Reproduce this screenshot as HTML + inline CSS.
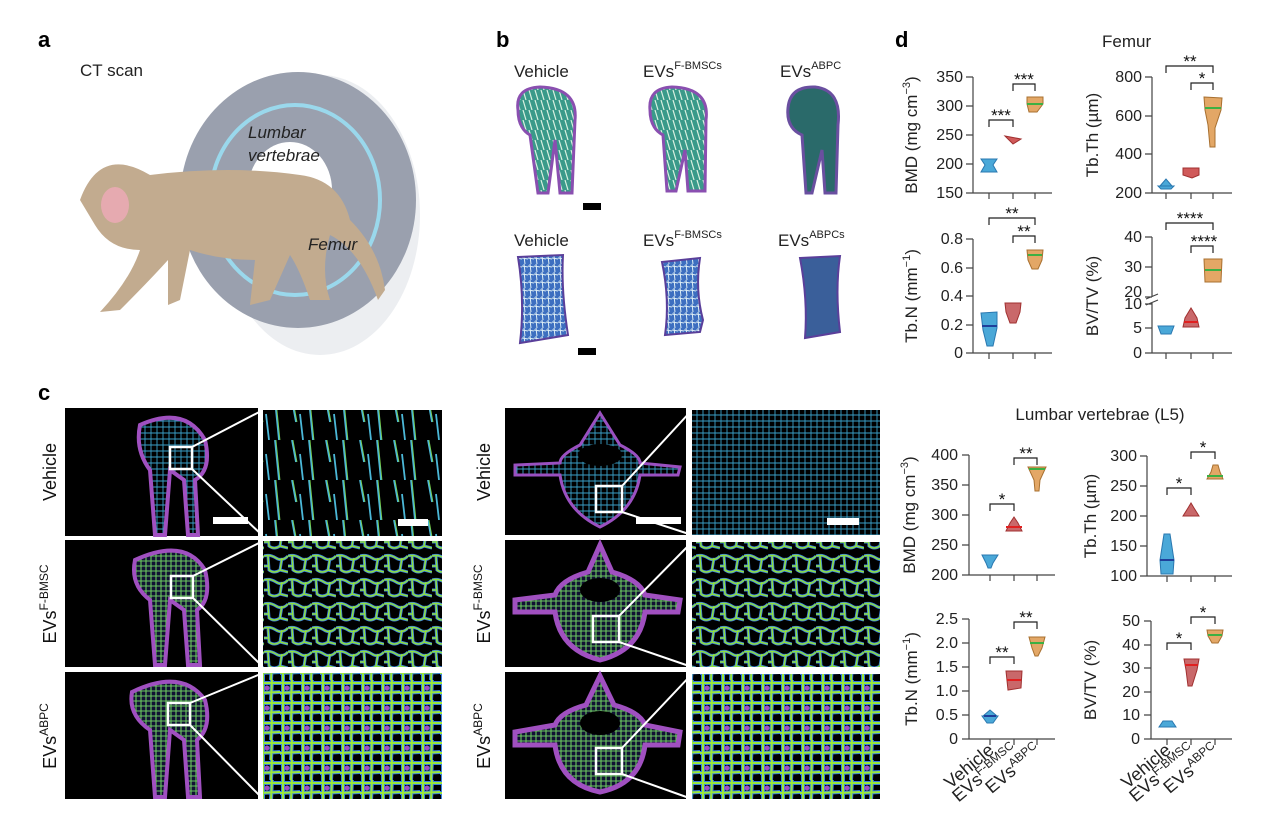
<!DOCTYPE html>
<html><head><meta charset="utf-8">
<style>
html,body{margin:0;padding:0;background:#fff;}
svg{display:block;font-family:"Liberation Sans",sans-serif;}
.t{font-size:16px;fill:#222;}
.lab{font-size:17px;fill:#222;}
.st{font-size:17px;fill:#111;}
.br{fill:none;stroke:#222;stroke-width:1.2;}
.ax{stroke:#444;stroke-width:1.2;fill:none;}
</style></head><body>
<svg width="1270" height="832" viewBox="0 0 1270 832" xmlns="http://www.w3.org/2000/svg">
<defs>
 <pattern id="trabA" width="34" height="40" patternUnits="userSpaceOnUse">
  <rect width="34" height="40" fill="#000"/>
  <path d="M3 0 L7 40 M20 0 L24 22 M28 14 L31 40" stroke="#4bb8d8" stroke-width="1.8"/>
  <path d="M4 0 L8 40 M21 0 L25 22" stroke="#7ad14a" stroke-width="0.8"/>
 </pattern>
 <pattern id="trabB" width="24" height="24" patternUnits="userSpaceOnUse">
  <rect width="24" height="24" fill="#000"/>
  <path d="M0 4 Q6 2 12 6 T24 4 M4 4 L5 18 Q10 22 16 18 L18 6 M0 14 L4 14 M16 18 L24 20" stroke="#3a7fe0" stroke-width="3" fill="none"/>
  <path d="M0 4 Q6 2 12 6 T24 4 M4 4 L5 18 Q10 22 16 18 L18 6 M0 14 L4 14 M16 18 L24 20" stroke="#8fe040" stroke-width="1.5" fill="none"/>
 </pattern>
 <pattern id="trabC" width="20" height="20" patternUnits="userSpaceOnUse">
  <rect width="20" height="20" fill="#000"/>
  <path d="M0 3 L20 3 M3 0 L3 20 M12 0 L11 20 M0 13 L20 12" stroke="#3a7fe0" stroke-width="4"/>
  <path d="M0 3 L20 3 M3 0 L3 20 M12 0 L11 20 M0 13 L20 12" stroke="#9ae83a" stroke-width="2"/>
  <circle cx="7" cy="8" r="2.5" fill="#a050c0"/>
 </pattern>
 <pattern id="fine" width="6" height="6" patternUnits="userSpaceOnUse">
  <rect width="6" height="6" fill="#000"/>
  <path d="M0 1 L6 1 M1 0 L1 6" stroke="#3aa0c8" stroke-width="0.9"/>
 </pattern>
 <pattern id="fineG" width="5" height="5" patternUnits="userSpaceOnUse">
  <rect width="5" height="5" fill="#113"/>
  <path d="M0 1 L5 1 M1 0 L1 5" stroke="#6cc860" stroke-width="1.1"/>
 </pattern>
 <pattern id="bvT" width="6" height="8" patternUnits="userSpaceOnUse">
  <rect width="6" height="8" fill="#3d6fc0"/>
  <path d="M0 2 L6 3 M2 0 L3 8" stroke="#dfeff5" stroke-width="1"/>
 </pattern>
 <pattern id="bfT" width="6" height="10" patternUnits="userSpaceOnUse">
  <rect width="6" height="10" fill="#3a9a8a"/>
  <path d="M1 0 L4 10" stroke="#d8f0e0" stroke-width="1.2"/>
 </pattern>
</defs>

<!-- Panel a -->
<text x="38" y="47" font-size="22" font-weight="bold">a</text>
<text x="80" y="76" font-size="17" fill="#222">CT scan</text>
<ellipse cx="320" cy="215" rx="100" ry="140" fill="#eceef1"/>
<ellipse cx="298" cy="200" rx="118" ry="128" fill="#9aa0ae"/>
<ellipse cx="295" cy="200" rx="85" ry="95" fill="none" stroke="#9ad8ec" stroke-width="4"/>
<ellipse cx="290" cy="190" rx="42" ry="48" fill="#fff"/>
<path d="M80 200 Q100 145 150 175 Q230 165 300 175 Q340 180 350 220 Q380 250 385 290 L378 300 Q360 250 330 235 Q320 270 330 300 L310 300 Q300 270 290 255 L270 300 L250 305 L255 260 Q220 260 190 250 L180 300 L168 305 L168 260 Q150 280 120 310 L100 312 Q130 280 140 250 Q110 250 95 225 Z" fill="#c2ab8f"/>
<ellipse cx="115" cy="205" rx="14" ry="18" fill="#e6aab0"/>
<text x="248" y="138" font-size="17" font-style="italic" fill="#222">Lumbar</text>
<text x="248" y="161" font-size="17" font-style="italic" fill="#222">vertebrae</text>
<text x="308" y="250" font-size="17" font-style="italic" fill="#222">Femur</text>

<!-- Panel b -->
<text x="496" y="47" font-size="22" font-weight="bold">b</text>
<text x="514" y="77" font-size="17" fill="#222">Vehicle</text>
<text x="643" y="77" font-size="17" fill="#222">EVs<tspan font-size="11" dy="-8">F-BMSCs</tspan></text>
<text x="780" y="77" font-size="17" fill="#222">EVs<tspan font-size="11" dy="-8">ABPC</tspan></text>
<text x="514" y="246" font-size="17" fill="#222">Vehicle</text>
<text x="643" y="246" font-size="17" fill="#222">EVs<tspan font-size="11" dy="-8">F-BMSCs</tspan></text>
<text x="778" y="246" font-size="17" fill="#222">EVs<tspan font-size="11" dy="-8">ABPCs</tspan></text>
<g>
 <path d="M518 110 Q515 88 540 87 Q578 88 575 120 L572 193 L560 193 L555 140 L548 193 L538 193 L530 135 Q518 128 518 110 Z" fill="url(#bfT)" stroke="#8a4fb0" stroke-width="3"/>
 <path d="M650 110 Q648 88 672 87 Q710 88 706 120 L705 191 L688 191 L685 150 L676 191 L667 191 L663 135 Q650 128 650 110 Z" fill="url(#bfT)" stroke="#8a4fb0" stroke-width="3"/>
 <path d="M788 108 Q790 86 815 87 Q842 90 838 125 L836 193 L825 193 L822 150 L812 193 L806 193 L802 135 Q786 128 788 108 Z" fill="#2a6a6a" stroke="#6a4fa0" stroke-width="3"/>
 <rect x="583" y="203" width="18" height="7" fill="#000"/>
 <path d="M518 257 L563 255 Q561 290 568 335 L520 343 Q525 300 518 257 Z" fill="url(#bvT)" stroke="#5a3f9a" stroke-width="2"/>
 <path d="M662 262 L700 258 Q695 290 703 320 L700 332 L665 335 Q670 300 662 262 Z" fill="url(#bvT)" stroke="#5a3f9a" stroke-width="2"/>
 <path d="M800 258 L840 256 Q835 290 840 332 L805 338 Q808 300 800 258 Z" fill="#3a5f9a" stroke="#5a3f9a" stroke-width="2"/>
 <rect x="578" y="348" width="18" height="7" fill="#000"/>
</g>

<!-- Panel c -->
<text x="38" y="400" font-size="22" font-weight="bold">c</text>
<g font-size="18" fill="#111">
 <text transform="translate(56,472) rotate(-90)" text-anchor="middle">Vehicle</text>
 <text transform="translate(56,604) rotate(-90)" text-anchor="middle">EVs<tspan font-size="12" dy="-8">F-BMSC</tspan></text>
 <text transform="translate(56,736) rotate(-90)" text-anchor="middle">EVs<tspan font-size="12" dy="-8">ABPC</tspan></text>
 <text transform="translate(490,472) rotate(-90)" text-anchor="middle">Vehicle</text>
 <text transform="translate(490,604) rotate(-90)" text-anchor="middle">EVs<tspan font-size="12" dy="-8">F-BMSC</tspan></text>
 <text transform="translate(490,736) rotate(-90)" text-anchor="middle">EVs<tspan font-size="12" dy="-8">ABPC</tspan></text>
</g>
<g>
 <rect x="65" y="408" width="193" height="128" fill="#000"/>
 <rect x="65" y="540" width="193" height="127" fill="#000"/>
 <rect x="65" y="672" width="193" height="127" fill="#000"/>
 <path d="M140 425 Q185 405 205 440 Q212 470 195 480 L198 535 L188 535 L184 480 L170 470 L165 535 L155 535 L150 470 Q135 450 140 425 Z" fill="url(#fine)" stroke="#a050c0" stroke-width="4"/>
 <path d="M135 560 Q185 537 205 570 Q212 600 197 610 L200 665 L188 665 L184 610 L170 600 L165 665 L155 665 L150 600 Q130 585 135 560 Z" fill="url(#fineG)" stroke="#a050c0" stroke-width="4"/>
 <path d="M132 692 Q182 668 205 700 Q212 728 197 740 L200 797 L188 797 L184 740 L170 730 L165 797 L155 797 L150 730 Q128 715 132 692 Z" fill="url(#fineG)" stroke="#a050c0" stroke-width="4"/>
 <rect x="170" y="447" width="22" height="22" fill="none" stroke="#fff" stroke-width="2.5"/>
 <rect x="171" y="576" width="22" height="22" fill="none" stroke="#fff" stroke-width="2.5"/>
 <rect x="168" y="703" width="22" height="22" fill="none" stroke="#fff" stroke-width="2.5"/>
 <path d="M192 447 L263 410 M192 469 L263 536 M193 576 L263 541 M193 598 L263 667 M190 703 L263 673 M190 725 L263 799" stroke="#fff" stroke-width="2"/>
 <rect x="213" y="517" width="35" height="7" fill="#fff"/>
 <rect x="263" y="410" width="179" height="126" fill="url(#trabA)"/>
 <rect x="263" y="541" width="179" height="126" fill="url(#trabB)"/>
 <rect x="263" y="673" width="179" height="126" fill="url(#trabC)"/>
 <rect x="398" y="519" width="30" height="7" fill="#fff"/>
</g>
<g>
 <rect x="505" y="408" width="181" height="127" fill="#000"/>
 <rect x="505" y="540" width="181" height="127" fill="#000"/>
 <rect x="505" y="672" width="181" height="127" fill="#000"/>
 <path d="M600 413 L620 445 Q640 455 640 463 L680 467 L678 475 L640 475 Q635 510 600 527 Q565 510 560 475 L515 475 L515 465 L560 463 Q560 455 580 445 Z" fill="url(#fine)" stroke="#9a50c0" stroke-width="3"/>
 <ellipse cx="600" cy="455" rx="22" ry="11" fill="#000"/>
 <path d="M600 545 L612 572 Q640 580 645 595 L680 600 L678 612 L645 612 Q640 650 600 660 Q560 650 555 612 L515 612 L515 600 L555 595 Q560 580 588 572 Z" fill="url(#fineG)" stroke="#a050c0" stroke-width="5"/>
 <ellipse cx="600" cy="590" rx="20" ry="12" fill="#000"/>
 <path d="M600 676 L614 705 Q640 712 645 725 L680 732 L678 745 L645 745 Q640 784 600 792 Q560 784 555 745 L515 745 L515 732 L555 725 Q560 712 586 705 Z" fill="url(#fineG)" stroke="#a050c0" stroke-width="5"/>
 <ellipse cx="600" cy="723" rx="20" ry="12" fill="#000"/>
 <rect x="596" y="486" width="26" height="26" fill="none" stroke="#fff" stroke-width="2.5"/>
 <rect x="593" y="616" width="26" height="26" fill="none" stroke="#fff" stroke-width="2.5"/>
 <rect x="596" y="748" width="26" height="26" fill="none" stroke="#fff" stroke-width="2.5"/>
 <path d="M622 486 L692 410 M622 512 L692 535 M619 616 L692 542 M619 642 L692 667 M622 748 L692 674 M622 774 L692 799" stroke="#fff" stroke-width="2"/>
 <rect x="636" y="517" width="45" height="7" fill="#fff"/>
 <rect x="692" y="410" width="188" height="125" fill="url(#fine)"/>
 <rect x="692" y="542" width="188" height="125" fill="url(#trabB)"/>
 <rect x="692" y="674" width="188" height="125" fill="url(#trabC)"/>
 <rect x="827" y="518" width="32" height="7" fill="#fff"/>
</g>

<!-- Panel d -->
<text x="895" y="47" font-size="22" font-weight="bold">d</text>
<text x="1102" y="47" class="lab" font-size="17">Femur</text>
<text x="1100" y="420" class="lab" font-size="17" text-anchor="middle">Lumbar vertebrae (L5)</text>

<g>
 <path class="ax" d="M973 77 L973 193 L1052 193 M966 77 L973 77 M966 106 L973 106 M966 135 L973 135 M966 164 L973 164 M966 193 L973 193 M989 193 L989 199 M1013 193 L1013 199 M1035 193 L1035 199"/>
 <g class="t" text-anchor="end"><text x="963" y="82">350</text><text x="963" y="111">300</text><text x="963" y="140">250</text><text x="963" y="169">200</text><text x="963" y="198">150</text></g>
 <text class="lab" transform="translate(917,135) rotate(-90)" text-anchor="middle">BMD (mg cm<tspan font-size="11" dy="-7">−3</tspan><tspan dy="7">)</tspan></text>
 <path d="M981 159 L997 159 L993 165 L997 172 L981 172 L985 165 Z" fill="#4aa8d8" stroke="#2a78b0"/>
 <path d="M1005 136 L1021 139 L1013 144 Z" fill="#d05a5a" stroke="#a03030"/>
 <path d="M1027 97 L1043 97 L1043 104 L1037 112 L1029 112 L1027 104 Z" fill="#e3a766" stroke="#a87030"/>
 <path d="M1027 104 L1043 104" stroke="#3cb043" stroke-width="2"/>
 <path class="br" d="M989 127 L989 120 L1013 120 L1013 127 M1013 91 L1013 84 L1035 84 L1035 91"/>
 <text class="st" x="1001" y="121" text-anchor="middle">***</text>
 <text class="st" x="1024" y="85" text-anchor="middle">***</text>
</g>
<g>
 <path class="ax" d="M1152 77 L1152 193 L1232 193 M1145 77 L1152 77 M1145 116 L1152 116 M1145 154 L1152 154 M1145 193 L1152 193 M1166 193 L1166 199 M1191 193 L1191 199 M1213 193 L1213 199"/>
 <g class="t" text-anchor="end"><text x="1142" y="82">800</text><text x="1142" y="121">600</text><text x="1142" y="159">400</text><text x="1142" y="198">200</text></g>
 <text class="lab" transform="translate(1098,135) rotate(-90)" text-anchor="middle">Tb.Th (µm)</text>
 <path d="M1158 186 L1174 186 L1171 189 L1161 189 Z M1160 186 L1166 179 L1172 186 Z" fill="#4aa8d8" stroke="#2a78b0"/>
 <path d="M1183 168 L1199 168 L1199 175 L1192 178 L1183 175 Z" fill="#d05a5a" stroke="#a03030"/>
 <path d="M1204 97 L1222 98 L1221 110 L1215 128 L1215 147 L1210 147 L1208 125 L1205 110 Z" fill="#e3a766" stroke="#a87030"/>
 <path d="M1205 108 L1221 108" stroke="#3cb043" stroke-width="2"/>
 <path class="br" d="M1166 73 L1166 66 L1213 66 L1213 73 M1191 90 L1191 83 L1213 83 L1213 90"/>
 <text class="st" x="1190" y="67" text-anchor="middle">**</text>
 <text class="st" x="1202" y="84" text-anchor="middle">*</text>
</g>
<g>
 <path class="ax" d="M973 239 L973 353 L1052 353 M966 239 L973 239 M966 268 L973 268 M966 296 L973 296 M966 325 L973 325 M966 353 L973 353 M989 353 L989 359 M1013 353 L1013 359 M1035 353 L1035 359"/>
 <g class="t" text-anchor="end"><text x="963" y="244">0.8</text><text x="963" y="273">0.6</text><text x="963" y="301">0.4</text><text x="963" y="330">0.2</text><text x="963" y="358">0</text></g>
 <text class="lab" transform="translate(917,296) rotate(-90)" text-anchor="middle">Tb.N (mm<tspan font-size="11" dy="-7">−1</tspan><tspan dy="7">)</tspan></text>
 <path d="M981 313 L997 312 L997 328 L993 346 L987 346 L983 330 Z" fill="#4aa8d8" stroke="#2a78b0"/>
 <path d="M982 326 L997 326" stroke="#1f3f9a" stroke-width="2"/>
 <path d="M1005 303 L1021 303 L1020 312 L1016 323 L1010 323 L1006 312 Z" fill="#c9686a" stroke="#a03030"/>
 <path d="M1027 250 L1043 250 L1042 260 L1038 269 L1032 269 L1028 260 Z" fill="#e3a766" stroke="#a87030"/>
 <path d="M1028 255 L1042 255" stroke="#3cb043" stroke-width="2"/>
 <path class="br" d="M989 225 L989 218 L1035 218 L1035 225 M1013 243 L1013 236 L1035 236 L1035 243"/>
 <text class="st" x="1012" y="219" text-anchor="middle">**</text>
 <text class="st" x="1024" y="237" text-anchor="middle">**</text>
</g>
<g>
 <path class="ax" d="M1152 237 L1152 297 M1152 303 L1152 353 L1232 353 M1145 237 L1152 237 M1145 267 L1152 267 M1145 297 L1152 297 M1145 304 L1152 304 M1145 328 L1152 328 M1145 353 L1152 353 M1166 353 L1166 359 M1191 353 L1191 359 M1213 353 L1213 359 M1146 299 L1158 294 M1146 305 L1158 300"/>
 <g class="t" text-anchor="end"><text x="1142" y="242">40</text><text x="1142" y="272">30</text><text x="1142" y="297">20</text><text x="1142" y="309">10</text><text x="1142" y="333">5</text><text x="1142" y="358">0</text></g>
 <text class="lab" transform="translate(1098,296) rotate(-90)" text-anchor="middle">BV/TV (%)</text>
 <path d="M1158 326 L1174 326 L1171 334 L1161 334 Z" fill="#4aa8d8" stroke="#2a78b0"/>
 <path d="M1183 327 L1199 327 L1197 318 L1191 308 L1185 318 Z" fill="#c9686a" stroke="#a03030"/>
 <path d="M1184 322 L1198 322" stroke="#e02020" stroke-width="2"/>
 <path d="M1204 259 L1222 259 L1221 282 L1205 282 Z" fill="#e3a766" stroke="#a87030"/>
 <path d="M1205 270 L1221 270" stroke="#3cb043" stroke-width="2"/>
 <path class="br" d="M1166 230 L1166 223 L1213 223 L1213 230 M1191 253 L1191 246 L1213 246 L1213 253"/>
 <text class="st" x="1190" y="224" text-anchor="middle">****</text>
 <text class="st" x="1204" y="247" text-anchor="middle">****</text>
</g>

<g>
 <path class="ax" d="M969 455 L969 575 L1055 575 M962 455 L969 455 M962 485 L969 485 M962 515 L969 515 M962 545 L969 545 M962 575 L969 575 M990 575 L990 581 M1014 575 L1014 581 M1037 575 L1037 581"/>
 <g class="t" text-anchor="end"><text x="958" y="460">400</text><text x="958" y="490">350</text><text x="958" y="520">300</text><text x="958" y="550">250</text><text x="958" y="580">200</text></g>
 <text class="lab" transform="translate(915,515) rotate(-90)" text-anchor="middle">BMD (mg cm<tspan font-size="11" dy="-7">−3</tspan><tspan dy="7">)</tspan></text>
 <path d="M982 555 L998 555 L993 563 L991 568 L988 568 L986 563 Z" fill="#4aa8d8" stroke="#2a78b0"/>
 <path d="M1006 531 L1022 531 L1018 523 L1014 517 L1010 523 Z" fill="#c9686a" stroke="#a03030"/>
 <path d="M1006 527 L1022 527" stroke="#e02020" stroke-width="2"/>
 <path d="M1028 467 L1046 467 L1040 480 L1039 491 L1035 491 L1034 480 Z" fill="#e3a766" stroke="#a87030"/>
 <path d="M1029 469 L1045 469" stroke="#3cb043" stroke-width="2"/>
 <path class="br" d="M990 511 L990 504 L1014 504 L1014 511 M1014 465 L1014 458 L1037 458 L1037 465"/>
 <text class="st" x="1002" y="505" text-anchor="middle">*</text>
 <text class="st" x="1026" y="459" text-anchor="middle">**</text>
</g>
<g>
 <path class="ax" d="M1147 456 L1147 576 L1232 576 M1140 456 L1147 456 M1140 486 L1147 486 M1140 516 L1147 516 M1140 546 L1147 546 M1140 576 L1147 576 M1167 576 L1167 582 M1191 576 L1191 582 M1215 576 L1215 582"/>
 <g class="t" text-anchor="end"><text x="1137" y="461">300</text><text x="1137" y="491">250</text><text x="1137" y="521">200</text><text x="1137" y="551">150</text><text x="1137" y="581">100</text></g>
 <text class="lab" transform="translate(1096,516) rotate(-90)" text-anchor="middle">Tb.Th (µm)</text>
 <path d="M1164 534 L1170 534 L1174 560 L1173 574 L1161 574 L1160 560 Z" fill="#4aa8d8" stroke="#2a78b0"/>
 <path d="M1160 560 L1174 560" stroke="#1f3f9a" stroke-width="2"/>
 <path d="M1183 516 L1199 516 L1194 508 L1191 503 L1188 508 Z" fill="#c9686a" stroke="#a03030"/>
 <path d="M1207 479 L1223 479 L1220 472 L1218 465 L1213 465 L1211 472 Z" fill="#e3a766" stroke="#a87030"/>
 <path d="M1207 476 L1223 476" stroke="#3cb043" stroke-width="2"/>
 <path class="br" d="M1167 495 L1167 488 L1191 488 L1191 495 M1191 459 L1191 452 L1215 452 L1215 459"/>
 <text class="st" x="1179" y="489" text-anchor="middle">*</text>
 <text class="st" x="1203" y="453" text-anchor="middle">*</text>
</g>
<g>
 <path class="ax" d="M969 619 L969 739 L1055 739 M962 619 L969 619 M962 643 L969 643 M962 667 L969 667 M962 691 L969 691 M962 715 L969 715 M962 739 L969 739 M990 739 L990 745 M1014 739 L1014 745 M1037 739 L1037 745"/>
 <g class="t" text-anchor="end"><text x="958" y="624">2.5</text><text x="958" y="648">2.0</text><text x="958" y="672">1.5</text><text x="958" y="696">1.0</text><text x="958" y="720">0.5</text><text x="958" y="744">0</text></g>
 <text class="lab" transform="translate(917,679) rotate(-90)" text-anchor="middle">Tb.N (mm<tspan font-size="11" dy="-7">−1</tspan><tspan dy="7">)</tspan></text>
 <path d="M982 716 L998 716 L993 723 L987 723 Z M983 716 L990 710 L997 716 Z" fill="#4aa8d8" stroke="#2a78b0"/>
 <path d="M984 716 L996 716" stroke="#1f3f9a" stroke-width="2"/>
 <path d="M1006 671 L1022 671 L1021 688 L1008 690 Z" fill="#c9686a" stroke="#a03030"/>
 <path d="M1007 680 L1021 680" stroke="#e02020" stroke-width="2"/>
 <path d="M1029 637 L1045 637 L1042 648 L1038 656 L1035 656 L1032 648 Z" fill="#e3a766" stroke="#a87030"/>
 <path d="M1030 643 L1044 643" stroke="#3cb043" stroke-width="2"/>
 <path class="br" d="M990 664 L990 657 L1014 657 L1014 664 M1014 629 L1014 622 L1037 622 L1037 629"/>
 <text class="st" x="1002" y="658" text-anchor="middle">**</text>
 <text class="st" x="1026" y="623" text-anchor="middle">**</text>
</g>
<g>
 <path class="ax" d="M1151 621 L1151 739 L1232 739 M1144 621 L1151 621 M1144 645 L1151 645 M1144 668 L1151 668 M1144 692 L1151 692 M1144 715 L1151 715 M1144 739 L1151 739 M1167 739 L1167 745 M1191 739 L1191 745 M1215 739 L1215 745"/>
 <g class="t" text-anchor="end"><text x="1140" y="626">50</text><text x="1140" y="650">40</text><text x="1140" y="673">30</text><text x="1140" y="697">20</text><text x="1140" y="720">10</text><text x="1140" y="744">0</text></g>
 <text class="lab" transform="translate(1096,680) rotate(-90)" text-anchor="middle">BV/TV (%)</text>
 <path d="M1159 727 L1176 727 L1172 721 L1163 721 Z" fill="#4aa8d8" stroke="#2a78b0"/>
 <path d="M1184 659 L1199 659 L1197 670 L1192 686 L1188 686 L1186 670 Z" fill="#c9686a" stroke="#a03030"/>
 <path d="M1185 665 L1198 665" stroke="#e02020" stroke-width="2"/>
 <path d="M1207 630 L1223 630 L1222 636 L1218 643 L1212 643 L1208 636 Z" fill="#e3a766" stroke="#a87030"/>
 <path d="M1208 635 L1222 635" stroke="#3cb043" stroke-width="2"/>
 <path class="br" d="M1167 650 L1167 643 L1191 643 L1191 650 M1191 624 L1191 617 L1215 617 L1215 624"/>
 <text class="st" x="1179" y="644" text-anchor="middle">*</text>
 <text class="st" x="1203" y="618" text-anchor="middle">*</text>
</g>

<g font-size="18" fill="#222" text-anchor="end">
 <text transform="translate(995,752) rotate(-40)">Vehicle</text>
 <text transform="translate(1019,752) rotate(-40)">EVs<tspan font-size="12" dy="-7">F-BMSC</tspan></text>
 <text transform="translate(1042,752) rotate(-40)">EVs<tspan font-size="12" dy="-7">ABPC</tspan></text>
 <text transform="translate(1172,752) rotate(-40)">Vehicle</text>
 <text transform="translate(1196,752) rotate(-40)">EVs<tspan font-size="12" dy="-7">F-BMSC</tspan></text>
 <text transform="translate(1220,752) rotate(-40)">EVs<tspan font-size="12" dy="-7">ABPC</tspan></text>
</g>
</svg>
</body></html>
